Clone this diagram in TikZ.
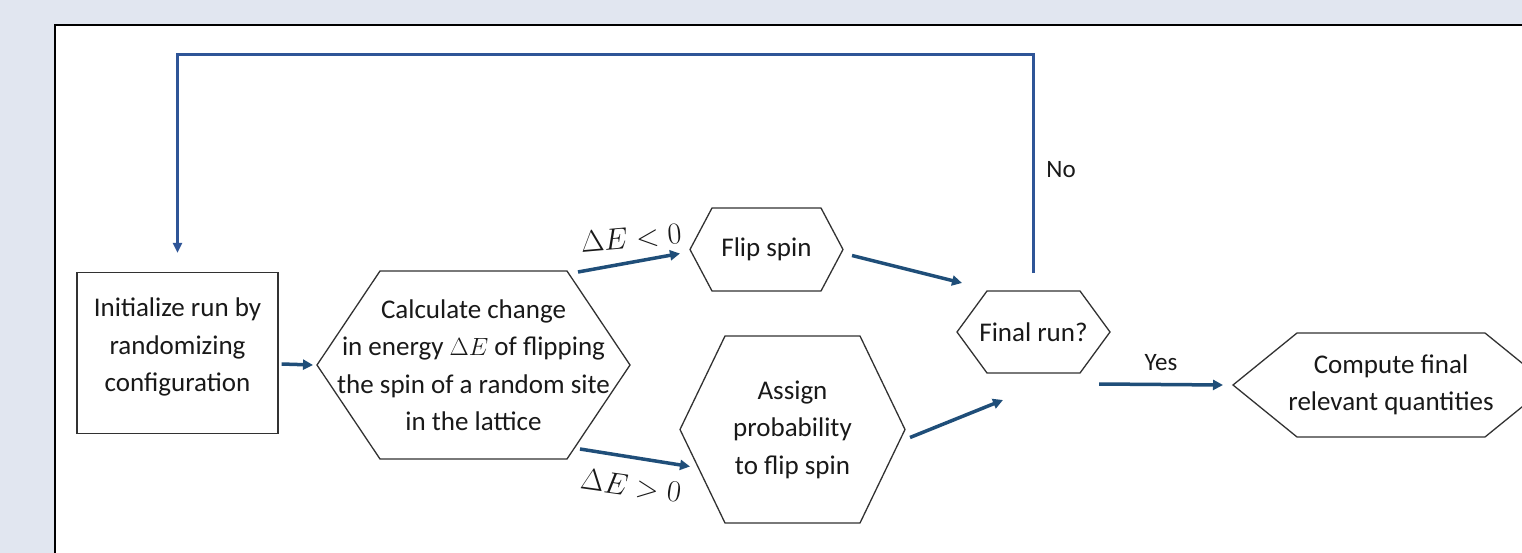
\documentclass[tikz,border=0pt]{standalone}
\usepackage{fontspec}
\setmainfont{Carlito}
\usetikzlibrary{arrows.meta,calc}
\definecolor{bgc}{RGB}{225,230,240}
\definecolor{arr}{RGB}{31,78,121}
\definecolor{loopc}{RGB}{47,85,151}
\definecolor{txt}{RGB}{25,25,25}
\definecolor{shp}{RGB}{50,50,50}
\tikzset{
  hexlabel/.style={align=center,inner sep=0pt,text=txt,font=\fontsize{27}{37.5}\selectfont},
  hexline/.style={draw=shp,line width=1.3pt,fill=white},
  flow/.style={draw=arr,line width=3.5pt,-{Triangle[length=10pt,width=10pt]}},
  loopline/.style={draw=loopc,line width=3pt},
  lbl/.style={inner sep=0pt,text=txt,font=\fontsize{25}{28}\selectfont},
  mlbl/.style={inner sep=0pt,text=txt,font=\fontsize{24.88}{28}\selectfont,scale=1.22},
}
\newcommand\hexa[7]{%
  \coordinate (#6W) at ({#1-#3},#2);
  \coordinate (#6E) at ({#1+#3},#2);
  \coordinate (#6NW) at ({#1-#3+#5},{#2-#4});
  \coordinate (#6NE) at ({#1+#3-#5},{#2-#4});
  \coordinate (#6SW) at ({#1-#3+#5},{#2+#4});
  \coordinate (#6SE) at ({#1+#3-#5},{#2+#4});
  \coordinate (#6N) at (#1,{#2-#4});
  \draw[hexline] (#6W) -- (#6NW) -- (#6NE) -- (#6E) -- (#6SE) -- (#6SW) -- cycle;
  \node[hexlabel] (#6) at (#1,#2) {#7};
}
\begin{document}
\begin{tikzpicture}[x=1pt,y=-1pt]
\useasboundingbox (0,0) rectangle (1522,553);
\fill[bgc] (0,0) rectangle (1522,553);
\fill[white] (55,25) rectangle (1530,560);
\draw[black,line width=2pt] (55,560) -- (55,25) -- (1530,25);

% initial box
\node[draw=shp,line width=1.3pt,fill=white,minimum width=201pt,minimum height=161pt,inner sep=0pt] (init) at (177.5,353) {};
\node[hexlabel] (initT) at (177.5,347) {Initialize run by\\randomizing\\configuration};

% hexagons
\hexa{473.5}{365}{156.5}{94}{63}{calc}{Calculate change\\in energy $\Delta E$ of flipping\\the spin of a random site\\in the lattice}
\hexa{766.5}{249.5}{76.5}{41.5}{22}{flip}{Flip spin}
\hexa{792.5}{429.5}{112.5}{93.5}{45}{assign}{Assign\\probability\\to flip spin}
\hexa{1033.5}{332}{76.5}{41}{30}{final}{Final run?}
\hexa{1391}{385}{158}{52}{64}{comp}{Compute final\\relevant quantities}

% connectors
\draw[flow] ($(init.east)+(3,11)$) -- ($(calcW)+(-4,0)$);
\draw[flow] ($(calcNE)+(11,1)$) -- ($(flipW)+(-10,4)$);
\draw[flow] ($(calcSE)+(13,-10)$) -- ($(assignW)+(10,37)$);
\draw[flow] ($(flipE)+(9,6)$) -- ($(finalNW)+(-25,-8)$);
\draw[flow] ($(assignE)+(5,8)$) -- ($(finalSW)+(16,27)$);
\draw[flow] ($(finalE)+(-11,52)$) -- ($(compW)+(-10,0)$);

\coordinate (loopS) at ($(finalN)+(0,-18)$);
\coordinate (loopE) at ($(init.north)+(0,-19)$);
\draw[loopline] (loopS) -- ++(0,-218) -| ($(loopE)+(0,-12)$);
\draw[loopline,-{Triangle[length=10pt,width=9pt]}] ($(loopE)+(0,-14)$) -- (loopE);

% labels
\node[mlbl,rotate=5] (lt) at (631,238) {$\Delta E<0$};
\node[mlbl,rotate=-8] (gt) at (631,486) {$\Delta E>0$};
\node[lbl] (no) at (1061,170) {No};
\node[lbl] (yes) at (1161,363) {Yes};
\end{tikzpicture}
\end{document}
